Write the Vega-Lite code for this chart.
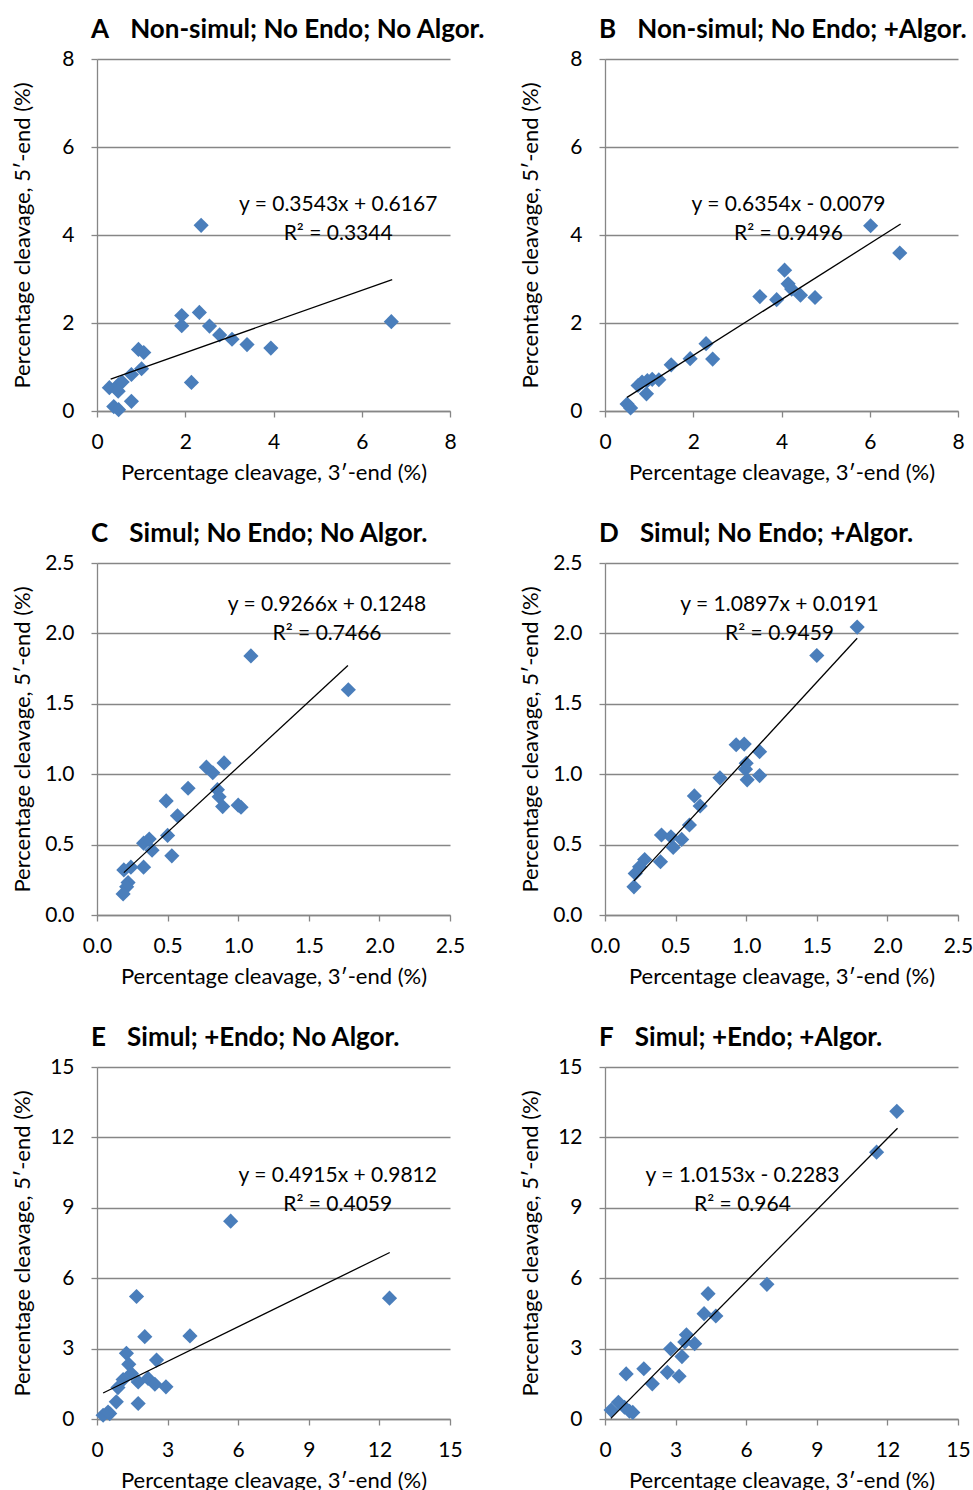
{
  "$schema": "https://vega.github.io/schema/vega-lite/v6.json",
  "background": "white",
  "padding": {"left": 11, "top": 17, "right": 5, "bottom": 3},
  "bounds": "flush",
  "columns": 2,
  "spacing": {"row": 152, "column": 155},
  "datasets": {
    "pts": [
      {"panel": "A", "x": 2.36, "y": 4.22}, {"panel": "A", "x": 1.92, "y": 2.17}, {"panel": "A", "x": 1.92, "y": 1.94},
      {"panel": "A", "x": 2.32, "y": 2.24}, {"panel": "A", "x": 2.55, "y": 1.93}, {"panel": "A", "x": 2.78, "y": 1.73},
      {"panel": "A", "x": 3.06, "y": 1.63}, {"panel": "A", "x": 3.40, "y": 1.51}, {"panel": "A", "x": 3.94, "y": 1.43},
      {"panel": "A", "x": 6.67, "y": 2.03}, {"panel": "A", "x": 2.14, "y": 0.65}, {"panel": "A", "x": 0.94, "y": 1.40},
      {"panel": "A", "x": 1.06, "y": 1.33}, {"panel": "A", "x": 1.01, "y": 0.96}, {"panel": "A", "x": 0.78, "y": 0.83},
      {"panel": "A", "x": 0.28, "y": 0.53}, {"panel": "A", "x": 0.49, "y": 0.60}, {"panel": "A", "x": 0.57, "y": 0.66},
      {"panel": "A", "x": 0.48, "y": 0.45}, {"panel": "A", "x": 0.78, "y": 0.22}, {"panel": "A", "x": 0.38, "y": 0.10},
      {"panel": "A", "x": 0.49, "y": 0.03},

      {"panel": "B", "x": 6.02, "y": 4.21}, {"panel": "B", "x": 6.68, "y": 3.59}, {"panel": "B", "x": 4.07, "y": 3.20},
      {"panel": "B", "x": 4.15, "y": 2.89}, {"panel": "B", "x": 4.23, "y": 2.77}, {"panel": "B", "x": 4.43, "y": 2.63},
      {"panel": "B", "x": 4.76, "y": 2.58}, {"panel": "B", "x": 3.51, "y": 2.60}, {"panel": "B", "x": 3.89, "y": 2.53},
      {"panel": "B", "x": 2.29, "y": 1.53}, {"panel": "B", "x": 2.44, "y": 1.18}, {"panel": "B", "x": 1.93, "y": 1.19},
      {"panel": "B", "x": 1.50, "y": 1.05}, {"panel": "B", "x": 1.22, "y": 0.71}, {"panel": "B", "x": 1.07, "y": 0.72},
      {"panel": "B", "x": 0.96, "y": 0.69}, {"panel": "B", "x": 0.84, "y": 0.66}, {"panel": "B", "x": 0.75, "y": 0.58},
      {"panel": "B", "x": 0.94, "y": 0.39}, {"panel": "B", "x": 0.50, "y": 0.16}, {"panel": "B", "x": 0.58, "y": 0.07},

      {"panel": "C", "x": 1.09, "y": 1.84}, {"panel": "C", "x": 1.78, "y": 1.60}, {"panel": "C", "x": 0.90, "y": 1.08},
      {"panel": "C", "x": 0.775, "y": 1.05}, {"panel": "C", "x": 0.82, "y": 1.01}, {"panel": "C", "x": 0.645, "y": 0.90},
      {"panel": "C", "x": 0.49, "y": 0.81}, {"panel": "C", "x": 0.853, "y": 0.89}, {"panel": "C", "x": 0.865, "y": 0.84},
      {"panel": "C", "x": 0.89, "y": 0.77}, {"panel": "C", "x": 1.02, "y": 0.765}, {"panel": "C", "x": 1.00, "y": 0.78},
      {"panel": "C", "x": 0.57, "y": 0.705}, {"panel": "C", "x": 0.50, "y": 0.565}, {"panel": "C", "x": 0.53, "y": 0.42},
      {"panel": "C", "x": 0.33, "y": 0.51}, {"panel": "C", "x": 0.37, "y": 0.54}, {"panel": "C", "x": 0.39, "y": 0.46},
      {"panel": "C", "x": 0.33, "y": 0.34}, {"panel": "C", "x": 0.19, "y": 0.32}, {"panel": "C", "x": 0.24, "y": 0.34},
      {"panel": "C", "x": 0.22, "y": 0.23}, {"panel": "C", "x": 0.21, "y": 0.20}, {"panel": "C", "x": 0.185, "y": 0.15},

      {"panel": "D", "x": 1.786, "y": 2.045}, {"panel": "D", "x": 1.50, "y": 1.843}, {"panel": "D", "x": 0.929, "y": 1.209},
      {"panel": "D", "x": 0.986, "y": 1.214}, {"panel": "D", "x": 1.095, "y": 1.16}, {"panel": "D", "x": 1.0, "y": 1.078},
      {"panel": "D", "x": 0.995, "y": 1.036}, {"panel": "D", "x": 1.007, "y": 0.96}, {"panel": "D", "x": 1.095, "y": 0.99},
      {"panel": "D", "x": 0.814, "y": 0.974}, {"panel": "D", "x": 0.633, "y": 0.846}, {"panel": "D", "x": 0.674, "y": 0.774},
      {"panel": "D", "x": 0.598, "y": 0.639}, {"panel": "D", "x": 0.40, "y": 0.568}, {"panel": "D", "x": 0.467, "y": 0.556},
      {"panel": "D", "x": 0.543, "y": 0.537}, {"panel": "D", "x": 0.483, "y": 0.48}, {"panel": "D", "x": 0.393, "y": 0.378},
      {"panel": "D", "x": 0.281, "y": 0.394}, {"panel": "D", "x": 0.245, "y": 0.342}, {"panel": "D", "x": 0.214, "y": 0.295},
      {"panel": "D", "x": 0.205, "y": 0.20},

      {"panel": "E", "x": 5.68, "y": 8.43}, {"panel": "E", "x": 12.43, "y": 5.15}, {"panel": "E", "x": 1.68, "y": 5.22},
      {"panel": "E", "x": 2.03, "y": 3.51}, {"panel": "E", "x": 3.95, "y": 3.54}, {"panel": "E", "x": 1.25, "y": 2.80},
      {"panel": "E", "x": 1.35, "y": 2.33}, {"panel": "E", "x": 2.53, "y": 2.51}, {"panel": "E", "x": 1.46, "y": 1.94},
      {"panel": "E", "x": 1.11, "y": 1.68}, {"panel": "E", "x": 1.75, "y": 1.58}, {"panel": "E", "x": 2.17, "y": 1.73},
      {"panel": "E", "x": 2.46, "y": 1.48}, {"panel": "E", "x": 2.93, "y": 1.37}, {"panel": "E", "x": 0.89, "y": 1.34},
      {"panel": "E", "x": 1.75, "y": 0.66}, {"panel": "E", "x": 0.82, "y": 0.73}, {"panel": "E", "x": 0.54, "y": 0.23},
      {"panel": "E", "x": 0.26, "y": 0.16}, {"panel": "E", "x": 0.47, "y": 0.30},

      {"panel": "F", "x": 12.40, "y": 13.11}, {"panel": "F", "x": 11.54, "y": 11.37}, {"panel": "F", "x": 6.88, "y": 5.74},
      {"panel": "F", "x": 4.38, "y": 5.34}, {"panel": "F", "x": 4.21, "y": 4.49}, {"panel": "F", "x": 4.71, "y": 4.39},
      {"panel": "F", "x": 3.46, "y": 3.59}, {"panel": "F", "x": 3.81, "y": 3.21}, {"panel": "F", "x": 3.39, "y": 3.28},
      {"panel": "F", "x": 2.79, "y": 2.99}, {"panel": "F", "x": 3.27, "y": 2.66}, {"panel": "F", "x": 1.65, "y": 2.14},
      {"panel": "F", "x": 0.90, "y": 1.92}, {"panel": "F", "x": 2.65, "y": 1.99}, {"panel": "F", "x": 3.15, "y": 1.82},
      {"panel": "F", "x": 2.01, "y": 1.50}, {"panel": "F", "x": 0.57, "y": 0.71}, {"panel": "F", "x": 0.26, "y": 0.38},
      {"panel": "F", "x": 1.04, "y": 0.33}, {"panel": "F", "x": 0.83, "y": 0.50}, {"panel": "F", "x": 1.18, "y": 0.28}
    ],
    "fits": [
      {"panel": "A", "x": 0.31, "y": 0.7265, "xe": 6.69, "ye": 2.9870, "label": "y = 0.3543x + 0.6167\nR² = 0.3344"},
      {"panel": "B", "x": 0.50, "y": 0.3098, "xe": 6.70, "ye": 4.2493, "label": "y = 0.6354x - 0.0079\nR² = 0.9496"},
      {"panel": "C", "x": 0.19, "y": 0.3009, "xe": 1.777, "ye": 1.7714, "label": "y = 0.9266x + 0.1248\nR² = 0.7466"},
      {"panel": "D", "x": 0.205, "y": 0.2425, "xe": 1.786, "ye": 1.9653, "label": "y = 1.0897x + 0.0191\nR² = 0.9459"},
      {"panel": "E", "x": 0.26, "y": 1.1090, "xe": 12.44, "ye": 7.0955, "label": "y = 0.4915x + 0.9812\nR² = 0.4059"},
      {"panel": "F", "x": 0.25, "y": 0.0255, "xe": 12.43, "ye": 12.3919, "label": "y = 1.0153x - 0.2283\nR² = 0.964"}
    ]
  },
  "concat": [
    {
      "title": "A\u2003\u200aNon-simul; No Endo; No Algor.",
      "width": 353, "height": 352,
      "layer": [
        {"data": {"name": "pts"}, "transform": [{"filter": "datum.panel == 'A'"}],
         "mark": {"type": "point", "shape": "diamond", "filled": true, "size": 230, "color": "#4A7EBB", "opacity": 1},
         "encoding": {
           "x": {"field": "x", "type": "quantitative", "scale": {"domain": [0, 8], "nice": false}, "axis": {"values": [0, 2, 4, 6, 8], "title": "Percentage cleavage, 3′-end (%)"}},
           "y": {"field": "y", "type": "quantitative", "scale": {"domain": [0, 8], "nice": false}, "axis": {"values": [0, 2, 4, 6, 8], "title": "Percentage cleavage, 5′-end (%)"}}}},
        {"data": {"name": "fits"}, "transform": [{"filter": "datum.panel == 'A'"}],
         "mark": {"type": "rule", "color": "black", "strokeWidth": 1.3},
         "encoding": {"x": {"field": "x", "type": "quantitative"}, "y": {"field": "y", "type": "quantitative"}, "x2": {"field": "xe"}, "y2": {"field": "ye"}}},
        {"data": {"name": "fits"}, "transform": [{"filter": "datum.panel == 'A'"}],
         "mark": {"type": "text", "lineBreak": "\n", "lineHeight": 29, "fontSize": 21, "align": "center", "baseline": "middle", "color": "black"},
         "encoding": {"x": {"datum": 5.465}, "y": {"datum": 4.693}, "text": {"field": "label"}}}
      ]
    },
    {
      "title": "B\u2003\u200aNon-simul; No Endo; +Algor.",
      "width": 353, "height": 352,
      "layer": [
        {"data": {"name": "pts"}, "transform": [{"filter": "datum.panel == 'B'"}],
         "mark": {"type": "point", "shape": "diamond", "filled": true, "size": 230, "color": "#4A7EBB", "opacity": 1},
         "encoding": {
           "x": {"field": "x", "type": "quantitative", "scale": {"domain": [0, 8], "nice": false}, "axis": {"values": [0, 2, 4, 6, 8], "title": "Percentage cleavage, 3′-end (%)"}},
           "y": {"field": "y", "type": "quantitative", "scale": {"domain": [0, 8], "nice": false}, "axis": {"values": [0, 2, 4, 6, 8], "title": "Percentage cleavage, 5′-end (%)"}}}},
        {"data": {"name": "fits"}, "transform": [{"filter": "datum.panel == 'B'"}],
         "mark": {"type": "rule", "color": "black", "strokeWidth": 1.3},
         "encoding": {"x": {"field": "x", "type": "quantitative"}, "y": {"field": "y", "type": "quantitative"}, "x2": {"field": "xe"}, "y2": {"field": "ye"}}},
        {"data": {"name": "fits"}, "transform": [{"filter": "datum.panel == 'B'"}],
         "mark": {"type": "text", "lineBreak": "\n", "lineHeight": 29, "fontSize": 21, "align": "center", "baseline": "middle", "color": "black"},
         "encoding": {"x": {"datum": 4.16}, "y": {"datum": 4.693}, "text": {"field": "label"}}}
      ]
    },
    {
      "title": "C\u2003\u200aSimul; No Endo; No Algor.",
      "width": 353, "height": 352,
      "layer": [
        {"data": {"name": "pts"}, "transform": [{"filter": "datum.panel == 'C'"}],
         "mark": {"type": "point", "shape": "diamond", "filled": true, "size": 230, "color": "#4A7EBB", "opacity": 1},
         "encoding": {
           "x": {"field": "x", "type": "quantitative", "scale": {"domain": [0, 2.5], "nice": false}, "axis": {"values": [0, 0.5, 1, 1.5, 2, 2.5], "format": ".1f", "title": "Percentage cleavage, 3′-end (%)"}},
           "y": {"field": "y", "type": "quantitative", "scale": {"domain": [0, 2.5], "nice": false}, "axis": {"values": [0, 0.5, 1, 1.5, 2, 2.5], "format": ".1f", "title": "Percentage cleavage, 5′-end (%)"}}}},
        {"data": {"name": "fits"}, "transform": [{"filter": "datum.panel == 'C'"}],
         "mark": {"type": "rule", "color": "black", "strokeWidth": 1.3},
         "encoding": {"x": {"field": "x", "type": "quantitative"}, "y": {"field": "y", "type": "quantitative"}, "x2": {"field": "xe"}, "y2": {"field": "ye"}}},
        {"data": {"name": "fits"}, "transform": [{"filter": "datum.panel == 'C'"}],
         "mark": {"type": "text", "lineBreak": "\n", "lineHeight": 29, "fontSize": 21, "align": "center", "baseline": "middle", "color": "black"},
         "encoding": {"x": {"datum": 1.629}, "y": {"datum": 2.205}, "text": {"field": "label"}}}
      ]
    },
    {
      "title": "D\u2003\u200aSimul; No Endo; +Algor.",
      "width": 353, "height": 352,
      "layer": [
        {"data": {"name": "pts"}, "transform": [{"filter": "datum.panel == 'D'"}],
         "mark": {"type": "point", "shape": "diamond", "filled": true, "size": 230, "color": "#4A7EBB", "opacity": 1},
         "encoding": {
           "x": {"field": "x", "type": "quantitative", "scale": {"domain": [0, 2.5], "nice": false}, "axis": {"values": [0, 0.5, 1, 1.5, 2, 2.5], "format": ".1f", "title": "Percentage cleavage, 3′-end (%)"}},
           "y": {"field": "y", "type": "quantitative", "scale": {"domain": [0, 2.5], "nice": false}, "axis": {"values": [0, 0.5, 1, 1.5, 2, 2.5], "format": ".1f", "title": "Percentage cleavage, 5′-end (%)"}}}},
        {"data": {"name": "fits"}, "transform": [{"filter": "datum.panel == 'D'"}],
         "mark": {"type": "rule", "color": "black", "strokeWidth": 1.3},
         "encoding": {"x": {"field": "x", "type": "quantitative"}, "y": {"field": "y", "type": "quantitative"}, "x2": {"field": "xe"}, "y2": {"field": "ye"}}},
        {"data": {"name": "fits"}, "transform": [{"filter": "datum.panel == 'D'"}],
         "mark": {"type": "text", "lineBreak": "\n", "lineHeight": 29, "fontSize": 21, "align": "center", "baseline": "middle", "color": "black"},
         "encoding": {"x": {"datum": 1.236}, "y": {"datum": 2.205}, "text": {"field": "label"}}}
      ]
    },
    {
      "title": "E\u2003\u200aSimul; +Endo; No Algor.",
      "width": 353, "height": 352,
      "layer": [
        {"data": {"name": "pts"}, "transform": [{"filter": "datum.panel == 'E'"}],
         "mark": {"type": "point", "shape": "diamond", "filled": true, "size": 230, "color": "#4A7EBB", "opacity": 1},
         "encoding": {
           "x": {"field": "x", "type": "quantitative", "scale": {"domain": [0, 15], "nice": false}, "axis": {"values": [0, 3, 6, 9, 12, 15], "title": "Percentage cleavage, 3′-end (%)"}},
           "y": {"field": "y", "type": "quantitative", "scale": {"domain": [0, 15], "nice": false}, "axis": {"values": [0, 3, 6, 9, 12, 15], "title": "Percentage cleavage, 5′-end (%)"}}}},
        {"data": {"name": "fits"}, "transform": [{"filter": "datum.panel == 'E'"}],
         "mark": {"type": "rule", "color": "black", "strokeWidth": 1.3},
         "encoding": {"x": {"field": "x", "type": "quantitative"}, "y": {"field": "y", "type": "quantitative"}, "x2": {"field": "xe"}, "y2": {"field": "ye"}}},
        {"data": {"name": "fits"}, "transform": [{"filter": "datum.panel == 'E'"}],
         "mark": {"type": "text", "lineBreak": "\n", "lineHeight": 29, "fontSize": 21, "align": "center", "baseline": "middle", "color": "black"},
         "encoding": {"x": {"datum": 10.23}, "y": {"datum": 10.34}, "text": {"field": "label"}}}
      ]
    },
    {
      "title": "F\u2003\u200aSimul; +Endo; +Algor.",
      "width": 353, "height": 352,
      "layer": [
        {"data": {"name": "pts"}, "transform": [{"filter": "datum.panel == 'F'"}],
         "mark": {"type": "point", "shape": "diamond", "filled": true, "size": 230, "color": "#4A7EBB", "opacity": 1},
         "encoding": {
           "x": {"field": "x", "type": "quantitative", "scale": {"domain": [0, 15], "nice": false}, "axis": {"values": [0, 3, 6, 9, 12, 15], "title": "Percentage cleavage, 3′-end (%)"}},
           "y": {"field": "y", "type": "quantitative", "scale": {"domain": [0, 15], "nice": false}, "axis": {"values": [0, 3, 6, 9, 12, 15], "title": "Percentage cleavage, 5′-end (%)"}}}},
        {"data": {"name": "fits"}, "transform": [{"filter": "datum.panel == 'F'"}],
         "mark": {"type": "rule", "color": "black", "strokeWidth": 1.3},
         "encoding": {"x": {"field": "x", "type": "quantitative"}, "y": {"field": "y", "type": "quantitative"}, "x2": {"field": "xe"}, "y2": {"field": "ye"}}},
        {"data": {"name": "fits"}, "transform": [{"filter": "datum.panel == 'F'"}],
         "mark": {"type": "text", "lineBreak": "\n", "lineHeight": 29, "fontSize": 21, "align": "center", "baseline": "middle", "color": "black"},
         "encoding": {"x": {"datum": 5.84}, "y": {"datum": 10.34}, "text": {"field": "label"}}}
      ]
    }
  ],
  "config": {
    "font": "Lato",
    "view": {"stroke": null},
    "axis": {
      "domainColor": "#868686", "tickColor": "#868686", "gridColor": "#868686",
      "domainWidth": 1.3, "tickWidth": 1.3, "gridWidth": 1.3, "tickSize": 6,
      "labelColor": "black", "titleColor": "black", "labelFontSize": 21, "titleFontSize": 22,
      "titleFontWeight": "normal", "labelFlush": false, "labelOverlap": false, "titleBaseline": "middle"
    },
    "axisX": {"grid": false, "labelPadding": 14, "titleY": 61},
    "axisY": {"grid": true, "labelPadding": 17, "titleX": -75},
    "title": {"fontSize": 26, "fontWeight": "bold", "anchor": "start", "frame": "group", "color": "black", "offset": 5, "dx": -6}
  }
}
